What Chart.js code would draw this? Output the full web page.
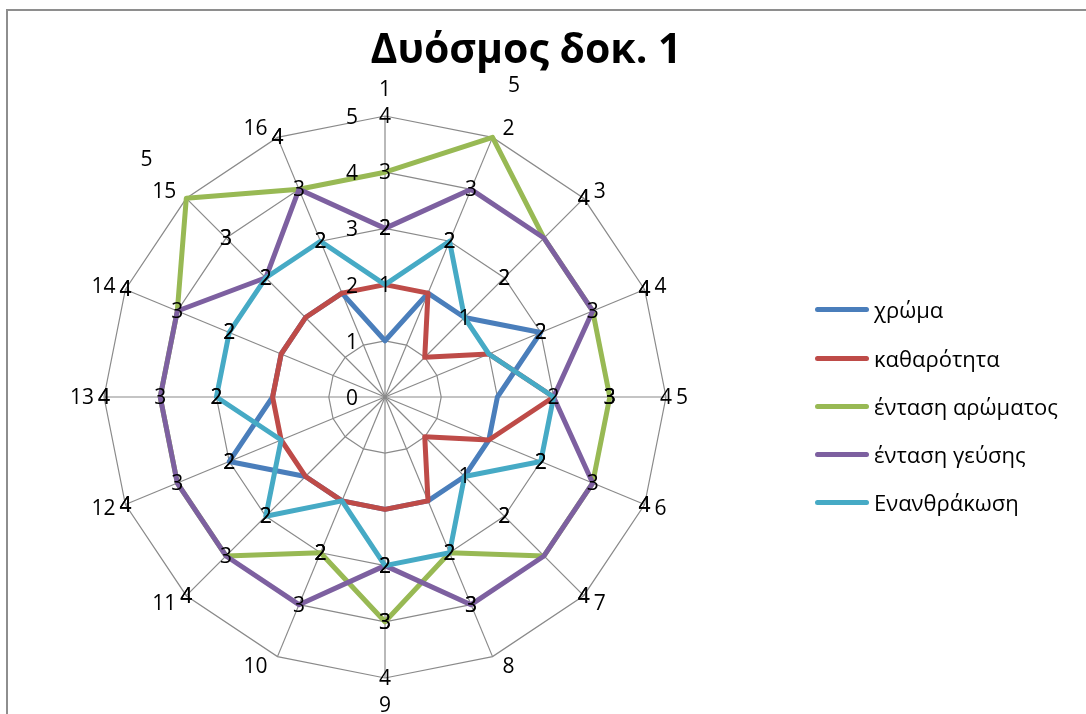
<!DOCTYPE html>
<html>
<head>
<meta charset="utf-8">
<script src="https://cdn.jsdelivr.net/npm/chart.js@4/dist/chart.umd.min.js"></script>
<style>
  html, body { margin: 0; padding: 0; background: #fff; overflow: hidden; }
  #wrap { position: relative; width: 1086px; height: 714px; overflow: hidden; background: #fff; }
  #frame { position: absolute; left: 6px; top: 9px; width: 1300px; height: 900px;
           border-left: 2px solid #8e8e8e; border-top: 2px solid #8e8e8e; box-sizing: border-box; }
  canvas { position: absolute; left: 0; top: 0; }
  #title { position: absolute; left: 0; width: 1052px; top: 27px; text-align: center;
           font: bold 41px/41px "Open Sans", "Noto Sans", sans-serif; color: #000; white-space: nowrap; }
  .row { position: absolute; left: 815px; height: 30px; line-height: 30px; white-space: nowrap;
         font: 22px/30px "Open Sans", "Noto Sans", sans-serif; color: #000; }
  .row .swatch { position: absolute; left: 0; top: 12.5px; width: 54px; height: 5px; border-radius: 3px; }
  .row .txt { position: absolute; left: 59px; top: 0; }
</style>
</head>
<body>
<div id="wrap">
  <div id="frame"></div>
  <canvas id="c" width="1086" height="714"></canvas>
  <div id="title">Δυόσμος δοκ. 1</div>
  <div id="legend"></div>
</div>
<script>
// Tasting sheet: 16 samples scored on five attributes (0–5)
const categories = ['1','2','3','4','5','6','7','8','9','10','11','12','13','14','15','16'];
const valueTicks = ['0','1','2','3','4','5'];

const colour        = [1, 2, 2, 3, 2, 2, 2, 2, 2, 2, 2, 3, 2, 2, 2, 2];
const clarity       = [2, 2, 1, 2, 3, 2, 1, 2, 2, 2, 2, 2, 2, 2, 2, 2];
const aroma         = [4, 5, 4, 4, 4, 4, 4, 3, 4, 3, 4, 4, 4, 4, 5, 4];
const taste         = [3, 4, 4, 4, 3, 4, 4, 4, 3, 4, 4, 4, 4, 4, 3, 4];
const carbonation   = [2, 3, 2, 2, 3, 3, 2, 3, 3, 2, 3, 2, 3, 3, 3, 3];

// value labels removed by hand for these sample indexes
const tasteLabelsRemoved = [1, 7, 9];

const seriesNames  = ['χρώμα', 'καθαρότητα', 'ένταση αρώματος', 'ένταση γεύσης', 'Ενανθράκωση'];
const seriesColors = ['#4A7EBB', '#BE4B48', '#98B954', '#7D60A0', '#46AAC5'];
const seriesData   = [colour, clarity, aroma, taste, carbonation];
const seriesGaps   = [[], [], [], tasteLabelsRemoved, []];

const FONT = '"Open Sans", "Noto Sans", sans-serif';

// Value labels sit one ring outside their point; axis numbers run up the first spoke;
// sample numbers are placed around the outer ring.
const radarText = {
  id: 'radarText',
  afterDatasetsDraw(chart) {
    const r = chart.scales.r;
    const ctx = chart.ctx;
    ctx.save();
    ctx.fillStyle = '#000';
    ctx.font = '21px ' + FONT;
    ctx.textBaseline = 'middle';

    // data values
    ctx.textAlign = 'center';
    chart.data.datasets.forEach((ds, di) => {
      if (!chart.isDatasetVisible(di)) return;
      const gaps = ds.labelGaps || [];
      ds.data.forEach((v, i) => {
        if (gaps.includes(i)) return;
        const p = r.getPointPositionForValue(i, v + 1);
        ctx.fillText(String(v), p.x, p.y + 1);
      });
    });

    // value axis numbers
    ctx.textAlign = 'right';
    valueTicks.forEach(t => {
      const p = r.getPointPositionForValue(0, Number(t));
      ctx.fillText(t, p.x - 27, p.y + 2);
    });

    // sample numbers
    ctx.textAlign = 'center';
    categories.forEach((c, i) => {
      const p = r.getPointPositionForValue(i, r.max);
      const a = r.getIndexAngle(i);
      const s = Math.sin(a), co = Math.cos(a);
      const w = ctx.measureText(c).width;
      let x = p.x, y = p.y;
      if (Math.abs(s) < 0.01) {
        y += co > 0 ? -27 : 27;
      } else {
        x += Math.sign(s) * (10 + w / 2);
        y += -co * 10;
      }
      ctx.fillText(c, x, y + 1);
    });
    ctx.restore();
  }
};

const chart = new Chart(document.getElementById('c'), {
  type: 'radar',
  data: {
    labels: categories,
    datasets: seriesData.map((d, k) => ({
      label: seriesNames[k],
      data: d,
      borderColor: seriesColors[k],
      backgroundColor: seriesColors[k],
      borderWidth: 5,
      borderJoinStyle: 'round',
      borderCapStyle: 'round',
      pointRadius: 0,
      pointHoverRadius: 0,
      fill: false,
      order: seriesData.length - 1 - k,
      labelGaps: seriesGaps[k]
    }))
  },
  options: {
    responsive: false,
    devicePixelRatio: 1,
    animation: false,
    events: [],
    layout: { padding: { left: 104, right: 420, top: 116, bottom: 36 } },
    scales: {
      r: {
        min: 0,
        max: 5,
        ticks: { stepSize: 1, display: false },
        pointLabels: { display: false },
        grid: { color: '#8a8a8a', lineWidth: 1.2 },
        angleLines: { color: '#8a8a8a', lineWidth: 1.2 }
      }
    },
    plugins: {
      legend: { display: false },
      tooltip: { enabled: false },
      title: { display: false }
    }
  },
  plugins: [radarText]
});

// legend built from the chart's datasets
const legendEl = document.getElementById('legend');
const rowTop = [309, 358, 406, 454, 502];
chart.data.datasets.forEach((ds, k) => {
  const row = document.createElement('div');
  row.className = 'row';
  row.style.top = (rowTop[k] - 15) + 'px';
  const sw = document.createElement('div');
  sw.className = 'swatch';
  sw.style.background = ds.borderColor;
  const tx = document.createElement('span');
  tx.className = 'txt';
  tx.textContent = ds.label;
  row.appendChild(sw);
  row.appendChild(tx);
  legendEl.appendChild(row);
});
</script>
</body>
</html>
